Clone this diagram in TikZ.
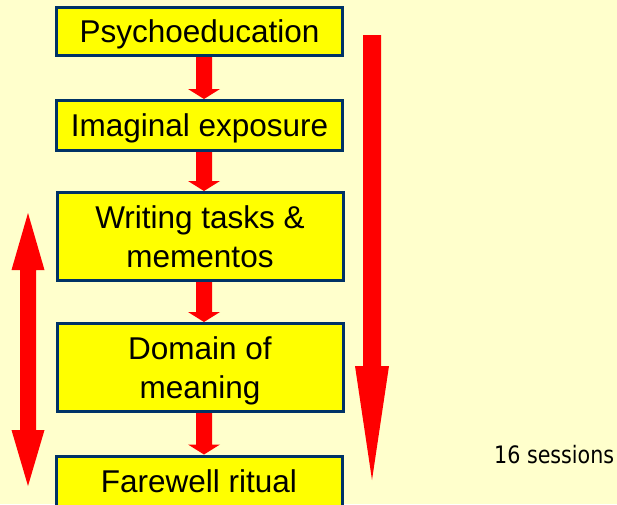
\documentclass[tikz,border=0pt]{standalone}
\usepackage{fontspec}
\setmainfont{Liberation Sans}
\newfontfamily\sessfont[FakeStretch=0.86]{DejaVu Sans}
\usetikzlibrary{calc}

\definecolor{pagebg}{RGB}{255,255,204}
\definecolor{boxfill}{RGB}{255,255,0}
\definecolor{boxline}{RGB}{0,51,102}
\definecolor{arrowfill}{RGB}{255,0,0}

% block arrow pointing down, from #1 (top) to #2 (tip)
\newcommand\stepconnector[2]{%
  \fill[arrowfill] let \p1=(#1), \p2=(#2) in
    (\x1-8pt,\y1) -- (\x1+8pt,\y1) -- (\x1+8pt,\y2+10pt) -- (\x1+16pt,\y2+10pt)
    -- (\x1,\y2) -- (\x1-16pt,\y2+10pt) -- (\x1-8pt,\y2+10pt) -- cycle;}

\tikzset{
  stagebox/.style={draw=boxline, fill=boxfill, line width=3pt, rectangle,
    minimum width=286pt, inner sep=0pt, text=black,
    font=\fontsize{31.5}{38.5}\selectfont},
  oneline/.style={text depth=0pt},
  twolines/.style={align=center},
}

\begin{document}
\begin{tikzpicture}[x=1pt, y=-1pt]
  \useasboundingbox (0,0) rectangle (617,504);
  \fill[pagebg] (0,0) rectangle (617,504);

  % the five stages
  \node[stagebox, oneline, minimum height=48pt] (b1) at (199.5,31.5) {Psychoeducation};
  \node[stagebox, oneline, minimum height=50pt] (b2) at (199.5,125.5) {Imaginal exposure};
  \node[stagebox, twolines, minimum height=88pt] (b3) at (200,236.5) {Writing tasks \&\\mementos};
  \node[stagebox, twolines, minimum height=88pt] (b4) at (200,367.5) {Domain of\\meanin\smash{g}};
  \node[stagebox, oneline, minimum height=50pt] (b5) at (199,481) {Farewell ritual};

  % arrows between consecutive stages
  \coordinate (ax) at (204,0);
  \stepconnector{b1.south -| ax}{b2.north -| ax}
  \stepconnector{b2.south -| ax}{b3.north -| ax}
  \stepconnector{b3.south -| ax}{b4.north -| ax}
  \stepconnector{b4.south -| ax}{b5.north -| ax}

  % long arrow on the right
  \fill[arrowfill] (363,35) -- (381,35) -- (381,366) -- (389,366) -- (372,480)
    -- (355,366) -- (363,366) -- cycle;

  % double-headed arrow on the left
  \fill[arrowfill] (28,213) -- (44.5,270) -- (36,270) -- (36,430) -- (44.5,430)
    -- (28,486) -- (11.5,430) -- (20,430) -- (20,270) -- (11.5,270) -- cycle;

  \node[anchor=base west, inner sep=0pt, font=\sessfont\fontsize{24}{28}\selectfont]
    (sessions) at (494,463) {16 sessions};
\end{tikzpicture}
\end{document}
